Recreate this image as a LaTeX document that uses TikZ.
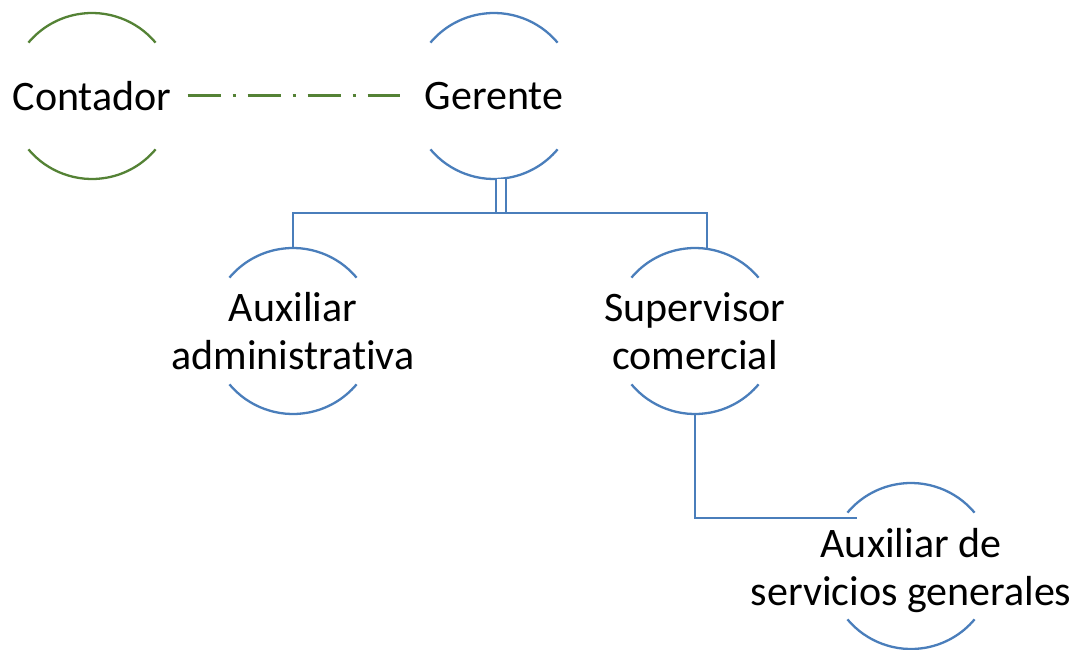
\documentclass[tikz,border=0pt]{standalone}
\usepackage{fontspec}
\setmainfont{Carlito}[Ligatures=NoCommon]
\usetikzlibrary{calc}
\definecolor{chartblue}{RGB}{74,126,187}
\definecolor{chartgreen}{RGB}{84,130,53}
\def\ringarcs[#1](#2){\draw[#1] ($(#2)+(40:83pt)$) arc (40:140:83pt); \draw[#1] ($(#2)+(220:83pt)$) arc (220:320:83pt);}

\begin{document}
\begin{tikzpicture}[x=1pt, y=1pt,
		role/.style={font=\fontsize{42}{48}\selectfont, align=center, inner sep=0pt},
		link/.style={chartblue, line width=2.3pt},
		peerlink/.style={chartgreen, line width=3pt, dash pattern=on 33pt off 12pt on 3pt off 12pt}]
			%%%%% START %%%%%
			
			\useasboundingbox (0, 0) rectangle (1087, -650);
			
			\node[role] (contador) at (92, -96) {Contador};
			\ringarcs[chartgreen, line width=2.3pt](contador.center)
			
			\node[role] (gerente) at (494, -96) {Gerente};
			\ringarcs[chartblue, line width=2.3pt](gerente.center)
			
			\node[role] (auxadm) at (293, -331) {Auxiliar\\administrativa};
			\ringarcs[chartblue, line width=2.3pt](auxadm.center)
			
			\node[role] (supcom) at (695, -331) {Supervisor\\comercial};
			\ringarcs[chartblue, line width=2.3pt](supcom.center)
			
			\coordinate (servring) at (911, -566);
			\node[role] (auxserv) at (911, -571) {Auxiliar de\\servicios generales};
			\ringarcs[chartblue, line width=2.3pt](servring)
			
			\coordinate (split) at (501, -213);
			
			\draw[peerlink, shorten <=16pt, shorten >=25pt] (contador.east) -- (gerente.west);
			
			\draw[chartblue, line width=1.6pt, double, double distance=8pt] ($(gerente.center)+(7, -83)$) -- (split);
			\draw[link] ($(auxadm.center)+(0, 83)$) |- (split) -| ($(supcom.center)+(12, 82)$);
			\draw[link] ($(supcom.center)+(0, -83)$) |- ($(servring)+(-54, 48)$);
			
			%%%%% END %%%%%
		\end{tikzpicture}
\end{document}
